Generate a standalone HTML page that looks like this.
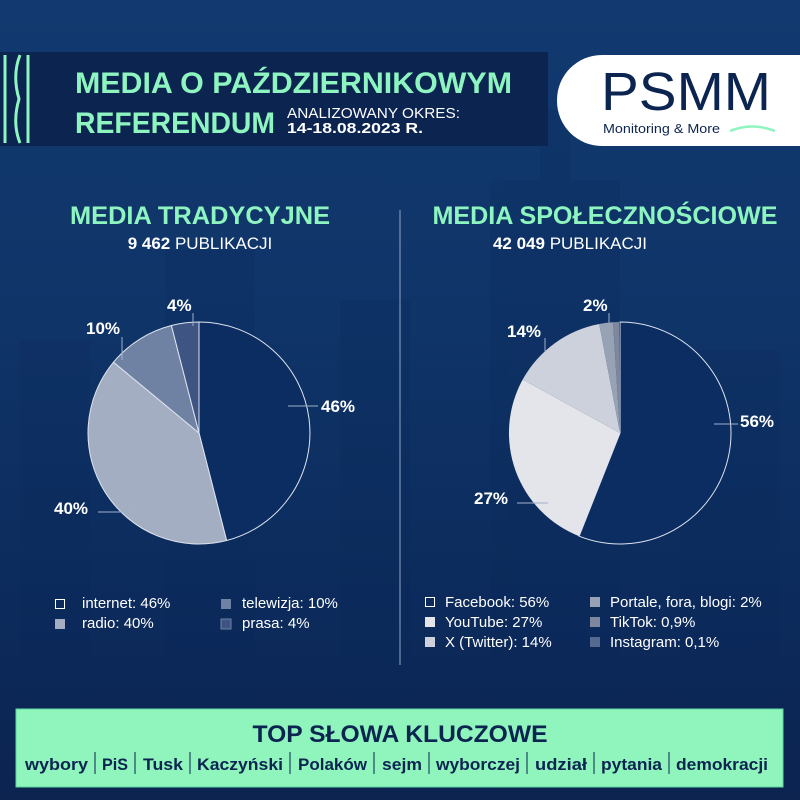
<!DOCTYPE html>
<html><head><meta charset="utf-8"><style>
html,body{margin:0;padding:0}
body{width:800px;height:800px;overflow:hidden;background:linear-gradient(180deg,#123a70 0%,#0f3468 40%,#0c2b5c 75%,#0c2350 100%);font-family:"Liberation Sans",sans-serif;position:relative}
</style></head><body>
<svg width="800" height="800" viewBox="0 0 800 800" xmlns="http://www.w3.org/2000/svg" style="position:absolute;left:0;top:0">
<g fill="#0a2a58" opacity="0.2">
<rect x="165" y="250" width="90" height="450"/><rect x="340" y="300" width="70" height="400"/>
<rect x="490" y="180" width="130" height="520"/><rect x="540" y="110" width="30" height="100"/>
<rect x="20" y="340" width="70" height="360"/><rect x="680" y="350" width="100" height="350"/>
</g>
<rect x="0" y="52" width="548" height="94" fill="#0b2450"/>
<g stroke="#8ef5c0" stroke-width="3" fill="none">
<line x1="5" y1="55" x2="5" y2="143"/>
<line x1="28" y1="55" x2="28" y2="143"/>
<path d="M20 55 Q12 75 19 99 Q12 123 20 143"/>
</g>
<text x="75" y="93" font-size="30" font-weight="bold" fill="#8ef5c0" textLength="437" lengthAdjust="spacingAndGlyphs">MEDIA O PAŹDZIERNIKOWYM</text>
<text x="75" y="133" font-size="30" font-weight="bold" fill="#8ef5c0" textLength="200" lengthAdjust="spacingAndGlyphs">REFERENDUM</text>
<text x="287" y="118" font-size="15" fill="#ffffff" textLength="173" lengthAdjust="spacingAndGlyphs">ANALIZOWANY OKRES:</text>
<text x="287" y="133" font-size="15" font-weight="bold" fill="#ffffff" textLength="136" lengthAdjust="spacingAndGlyphs">14-18.08.2023 R.</text>
<path d="M602 55 H800 V146 H602 A45 45 0 0 1 557 101 V100 A45 45 0 0 1 602 55 Z" fill="#ffffff"/>
<text x="601" y="110" font-size="54" fill="#0b2450" textLength="170" lengthAdjust="spacingAndGlyphs">PSMM</text>
<text x="603" y="133" font-size="13" fill="#0b2450" textLength="117" lengthAdjust="spacingAndGlyphs">Monitoring &amp; More</text>
<path d="M730 131 Q752 122 775 131" stroke="#8ef5c0" stroke-width="2.5" fill="none"/>
<text x="200" y="224" font-size="25" font-weight="bold" fill="#8ef5c0" text-anchor="middle" textLength="260" lengthAdjust="spacingAndGlyphs">MEDIA TRADYCYJNE</text>
<text x="200" y="249" font-size="17" fill="#ffffff" text-anchor="middle"><tspan font-weight="bold">9 462</tspan> PUBLIKACJI</text>
<text x="605" y="224" font-size="25" font-weight="bold" fill="#8ef5c0" text-anchor="middle" textLength="345" lengthAdjust="spacingAndGlyphs">MEDIA SPOŁECZNOŚCIOWE</text>
<text x="570" y="249" font-size="17" fill="#ffffff" text-anchor="middle"><tspan font-weight="bold">42 049</tspan> PUBLIKACJI</text>
<line x1="400" y1="210" x2="400" y2="665" stroke="#8fa6c8" stroke-width="1"/>
<g stroke="#dfe4ee" stroke-width="1">
<path d="M199 433 L199 322 A111 111 0 0 1 226.6 540.5 Z" fill="#0c2d62"/>
<path d="M199 433 L226.6 540.5 A111 111 0 0 1 113.5 362.2 Z" fill="#a3aec2"/>
<path d="M199 433 L113.5 362.2 A111 111 0 0 1 171.4 325.5 Z" fill="#6f82a3"/>
<path d="M199 433 L171.4 325.5 A111 111 0 0 1 199 322 Z" fill="#3e5584"/>
</g>
<g stroke="#9fb0cc" stroke-width="1">
<line x1="288" y1="406" x2="318" y2="406"/><line x1="98" y1="512" x2="135" y2="512"/>
<line x1="122" y1="337" x2="122" y2="360"/><line x1="193" y1="313" x2="193" y2="326"/>
</g>
<g font-size="17" font-weight="bold" fill="#ffffff">
<text x="321" y="412">46%</text><text x="54" y="514">40%</text>
<text x="86" y="334">10%</text><text x="167" y="311">4%</text>
</g>
<g stroke="#dfe4ee" stroke-width="1">
<path d="M620 433 L620 322 A111 111 0 1 1 579.1 536.2 Z" fill="#0c2d62"/>
<path d="M620 433 L579.1 536.2 A111 111 0 0 1 522.7 379.5 Z" fill="#e3e5ea" stroke="none"/>
<path d="M620 433 L522.7 379.5 A111 111 0 0 1 599.2 324 Z" fill="#ccd1dc" stroke="none"/>
<path d="M620 433 L599.2 324 A111 111 0 0 1 613 322.2 Z" fill="#98a2b5" stroke="none"/>
<path d="M620 433 L613 322.2 A111 111 0 0 1 619.3 322 Z" fill="#7d889f" stroke="none"/>
<path d="M620 433 L619.3 322 L620 322 Z" fill="#56698f" stroke="none"/>
</g>
<g stroke="#9fb0cc" stroke-width="1">
<line x1="714" y1="424" x2="738" y2="424"/><line x1="517" y1="503" x2="548" y2="503"/>
<line x1="545" y1="338" x2="545" y2="352"/><line x1="609" y1="313" x2="609" y2="323"/>
</g>
<g font-size="17" font-weight="bold" fill="#ffffff">
<text x="740" y="427">56%</text><text x="474" y="504">27%</text>
<text x="507" y="337">14%</text><text x="583" y="311">2%</text>
</g>
<g font-size="15" fill="#ffffff">
<rect x="55.5" y="599.5" width="9" height="9" fill="none" stroke="#ffffff"/><text x="82" y="608">internet: 46%</text>
<rect x="55" y="619" width="10" height="10" fill="#a3aec2"/><text x="82" y="628">radio: 40%</text>
<rect x="221" y="599" width="10" height="10" fill="#6f82a3"/><text x="242" y="608">telewizja: 10%</text>
<rect x="221" y="619" width="10" height="10" fill="#3e5584" stroke="#6f82a3"/><text x="242" y="628">prasa: 4%</text>
<rect x="425.5" y="597.5" width="9" height="9" fill="none" stroke="#ffffff"/><text x="445" y="607">Facebook: 56%</text>
<rect x="425" y="617" width="10" height="10" fill="#e3e5ea"/><text x="445" y="627">YouTube: 27%</text>
<rect x="425" y="637" width="10" height="10" fill="#ccd1dc"/><text x="445" y="647">X (Twitter): 14%</text>
<rect x="590" y="597" width="10" height="10" fill="#98a2b5"/><text x="610" y="607">Portale, fora, blogi: 2%</text>
<rect x="590" y="617" width="10" height="10" fill="#7d889f"/><text x="610" y="627">TikTok: 0,9%</text>
<rect x="590" y="637" width="10" height="10" fill="#56698f"/><text x="610" y="647">Instagram: 0,1%</text>
</g>
<rect x="16" y="709" width="767" height="78" fill="#8ff5bd" stroke="#5fd7a0" stroke-width="1"/>
<text x="400" y="742" font-size="24" font-weight="bold" fill="#0b2450" text-anchor="middle" textLength="295" lengthAdjust="spacingAndGlyphs">TOP SŁOWA KLUCZOWE</text>
<g font-size="17" font-weight="bold" fill="#0b2450">
<text x="25" y="770" textLength="63" lengthAdjust="spacingAndGlyphs">wybory</text>
<text x="102" y="770" textLength="26" lengthAdjust="spacingAndGlyphs">PiS</text>
<text x="143" y="770" textLength="40" lengthAdjust="spacingAndGlyphs">Tusk</text>
<text x="197" y="770" textLength="86" lengthAdjust="spacingAndGlyphs">Kaczyński</text>
<text x="298" y="770" textLength="69" lengthAdjust="spacingAndGlyphs">Polaków</text>
<text x="382" y="770" textLength="40" lengthAdjust="spacingAndGlyphs">sejm</text>
<text x="436" y="770" textLength="84" lengthAdjust="spacingAndGlyphs">wyborczej</text>
<text x="535" y="770" textLength="52" lengthAdjust="spacingAndGlyphs">udział</text>
<text x="601" y="770" textLength="61" lengthAdjust="spacingAndGlyphs">pytania</text>
<text x="676" y="770" textLength="92" lengthAdjust="spacingAndGlyphs">demokracji</text>
</g>
<g stroke="#0b2450" stroke-width="1">
<line x1="95" y1="752" x2="95" y2="774"/><line x1="135" y1="752" x2="135" y2="774"/>
<line x1="190" y1="752" x2="190" y2="774"/><line x1="290" y1="752" x2="290" y2="774"/>
<line x1="374" y1="752" x2="374" y2="774"/><line x1="429" y1="752" x2="429" y2="774"/>
<line x1="527" y1="752" x2="527" y2="774"/><line x1="594" y1="752" x2="594" y2="774"/>
<line x1="669" y1="752" x2="669" y2="774"/>
</g>
</svg>
</body></html>
